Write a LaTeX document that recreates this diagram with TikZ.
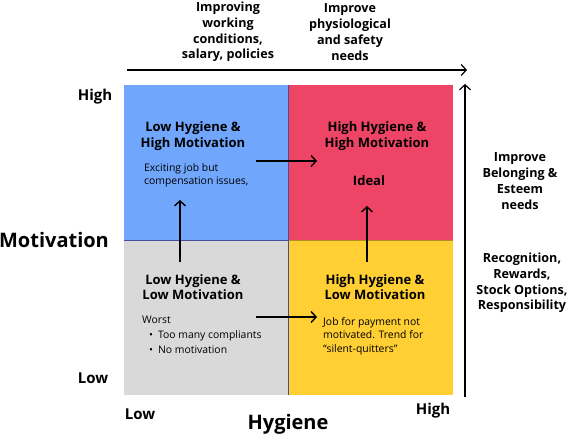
\documentclass[tikz,border=0pt]{standalone}
\usepackage{fontspec}
\setmainfont{Open Sans}
\usetikzlibrary{arrows.meta, positioning}

\definecolor{qblue}{HTML}{70A6FB}
\definecolor{qred}{HTML}{EE4466}
\definecolor{qgray}{HTML}{D9D9D9}
\definecolor{qyellow}{HTML}{FFCF33}

\begin{document}
\begin{tikzpicture}[
    x=1pt, y=-1pt,
    head/.style={
      font=\fontsize{13}{15.5}\selectfont\bfseries,
      align=center, inner sep=0pt
    },
    note/.style={
      font=\fontsize{10.4}{13.5}\selectfont,
      align=left, inner sep=0pt, anchor=north west
    },
    side/.style={
      font=\fontsize{12.6}{15.8}\selectfont\bfseries,
      align=center, inner sep=0pt
    },
    big/.style={font=\fontsize{20}{24}\selectfont\bfseries, inner sep=0pt},
    tick/.style={font=\fontsize{15}{17}\selectfont\bfseries, inner sep=0pt},
    arr/.style={-{Straight Barb[length=5pt, width=11pt]}, line width=1.4pt}
  ]
  \useasboundingbox (0,0) rectangle (571,436);

  % quadrants
  \fill[qblue]   (124,85)  rectangle (288,240);
  \fill[qred]    (288,85)  rectangle (453,240);
  \fill[qgray]   (124,240) rectangle (288,395);
  \fill[qyellow] (288,240) rectangle (453,395);
  \draw[line width=0.8pt, color=blue!45!black!70] (124,240) -- (288,240);
  \draw[line width=0.8pt, color=qyellow!70!black] (288,240) -- (453,240);
  \draw[line width=0.6pt, color=blue!40!black!70] (288,85) -- (288,395);

  % axes
  \coordinate (hx0) at (127,70);
  \coordinate (hx1) at (467,70);
  \coordinate (my0) at (465,397);
  \coordinate (my1) at (465,84);
  \draw[arr, line width=1.2pt] (hx0) -- (hx1);
  \draw[arr, line width=1.2pt] (my0) -- (my1);

  % axis labels
  \node[big] (motiv) at (54,240) {Motivation};
  \node[big] (hyg) at (288,424) {Hygiene};
  \node[tick] (mhigh) at (95,97) {High};
  \node[tick] (mlow) at (93,378) {Low};
  \node[tick] (hlow) at (140,414) {Low};
  \node[tick] (hhigh) at (433,411) {High};

  \node[side] (toplft) at (228,32) {Improving\\working\\conditions,\\salary, policies};
  \node[side] (toprgt) at (350,32) {Improve\\physiological\\and safety\\needs};
  \node[side] (needs) at (520,181) {Improve\\Belonging \&\\Esteem\\needs};
  \node[side] (reward) at (522,283) {Recognition,\\Rewards,\\Stock Options,\\Responsibility};

  % quadrant texts
  \node[head] (lh) at (193,136) {Low Hygiene \&\\High Motivation};
  \node[head] (hh) at (377,136) {High Hygiene \&\\High Motivation};
  \node[head] (ideal) at (369,181) {Ideal};
  \node[head] (ll) at (193,287) {Low Hygiene \&\\Low Motivation};
  \node[head] (hl) at (375,287) {High Hygiene \&\\Low Motivation};

  \node[note] (lhtxt) at (144,163) {Exciting job but\\compensation issues,};
  \node[note] (lltxt) at (142,316) {Worst\\[1pt]
    \hspace*{7pt}\textbullet\hspace{5pt}Too many compliants\\[2pt]
    \hspace*{7pt}\textbullet\hspace{5pt}No motivation};
  \node[note] (hltxt) at (323,317) {Job for payment not\\motivated. Trend for\\``silent-quitters''};

  % moves between quadrants
  \coordinate (a1) at (180,262);
  \coordinate (a2) at (180,200);
  \coordinate (b1) at (367,262);
  \coordinate (b2) at (367,206);
  \coordinate (c1) at (256,161);
  \coordinate (c2) at (317,161);
  \coordinate (d1) at (256,317);
  \coordinate (d2) at (317,317);
  \draw[arr] (a1) -- (a2);
  \draw[arr] (b1) -- (b2);
  \draw[arr] (c1) -- (c2);
  \draw[arr] (d1) -- (d2);
\end{tikzpicture}
\end{document}
